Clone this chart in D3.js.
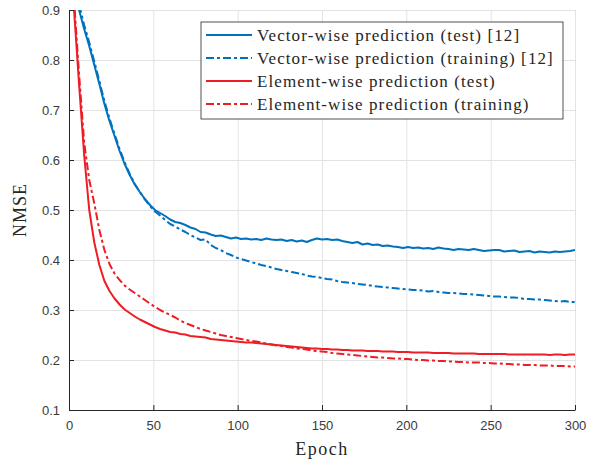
<!DOCTYPE html>
<html>
<head>
<meta charset="utf-8">
<script src="https://cdn.jsdelivr.net/npm/d3@7"></script>
<style>
  body { margin: 0; background: #fff; }
  .tick text { font-family: "Liberation Sans", Arial, sans-serif; font-size: 13px; fill: #3a3a3a; }
</style>
</head>
<body>
<script>
// Epochs (x categories), one sample every 3 epochs
var epochs = d3.range(0, 301, 3);

// NMSE per series
var vecTest = [
  1.00, 0.95, 0.90, 0.862, 0.828, 0.79, 0.752, 0.712, 0.678, 0.648,
  0.618, 0.592, 0.570, 0.551, 0.536, 0.522, 0.510, 0.500, 0.494, 0.488,
  0.481, 0.476, 0.474, 0.470, 0.465, 0.462, 0.456, 0.455, 0.451, 0.448,
  0.449, 0.446, 0.443, 0.445, 0.442, 0.443, 0.441, 0.442, 0.440, 0.443,
  0.441, 0.440, 0.441, 0.438, 0.440, 0.437, 0.439, 0.436, 0.440, 0.443,
  0.441, 0.442, 0.440, 0.441, 0.438, 0.436, 0.434, 0.436, 0.431, 0.433,
  0.430, 0.431, 0.428, 0.429, 0.427, 0.426, 0.424, 0.426, 0.424, 0.425,
  0.423, 0.424, 0.422, 0.425, 0.423, 0.422, 0.420, 0.422, 0.421, 0.420,
  0.422, 0.420, 0.418, 0.419, 0.420, 0.420, 0.417, 0.418, 0.419, 0.416,
  0.417, 0.418, 0.415, 0.417, 0.416, 0.415, 0.417, 0.416, 0.417, 0.418,
  0.420
];

var vecTrain = [
  1.01, 0.96, 0.91, 0.87, 0.835, 0.797, 0.758, 0.718, 0.683, 0.652,
  0.622, 0.595, 0.572, 0.552, 0.536, 0.521, 0.508, 0.497, 0.489, 0.480,
  0.472, 0.467, 0.461, 0.456, 0.450, 0.445, 0.440, 0.441, 0.430, 0.424,
  0.420, 0.414, 0.410, 0.405, 0.402, 0.399, 0.396, 0.393, 0.390, 0.388,
  0.385, 0.382, 0.380, 0.378, 0.376, 0.374, 0.372, 0.369, 0.367, 0.366,
  0.364, 0.362, 0.361, 0.358, 0.356, 0.355, 0.354, 0.352, 0.351, 0.350,
  0.348, 0.347, 0.346, 0.345, 0.344, 0.343, 0.342, 0.341, 0.340, 0.340,
  0.339, 0.337, 0.338, 0.336, 0.335, 0.334, 0.334, 0.333, 0.332, 0.332,
  0.331, 0.330, 0.329, 0.328, 0.327, 0.327, 0.326, 0.325, 0.325, 0.324,
  0.322, 0.322, 0.321, 0.321, 0.320, 0.319, 0.318, 0.317, 0.318, 0.316,
  0.316
];

var elemTest = [
  1.05, 0.90, 0.75, 0.61, 0.50, 0.435, 0.39, 0.358, 0.338, 0.323,
  0.311, 0.301, 0.294, 0.287, 0.281, 0.276, 0.271, 0.266, 0.262, 0.259,
  0.256, 0.255, 0.252, 0.251, 0.248, 0.247, 0.246, 0.245, 0.242, 0.241,
  0.240, 0.239, 0.238, 0.237, 0.236, 0.235, 0.235, 0.234, 0.233, 0.232,
  0.231, 0.230, 0.229, 0.228, 0.227, 0.226, 0.225, 0.224, 0.223, 0.223,
  0.222, 0.222, 0.221, 0.221, 0.220, 0.220, 0.219, 0.219, 0.219, 0.218,
  0.218, 0.218, 0.217, 0.217, 0.217, 0.216, 0.216, 0.216, 0.215, 0.215,
  0.215, 0.215, 0.214, 0.214, 0.214, 0.214, 0.213, 0.213, 0.213, 0.213,
  0.213, 0.212, 0.212, 0.212, 0.212, 0.212, 0.212, 0.211, 0.211, 0.211,
  0.211, 0.211, 0.211, 0.211, 0.211, 0.210, 0.211, 0.211, 0.210, 0.211,
  0.211
];

var elemTrain = [
  1.07, 0.92, 0.77, 0.635, 0.56, 0.513, 0.46, 0.42, 0.392, 0.373,
  0.360, 0.349, 0.341, 0.334, 0.327, 0.320, 0.313, 0.306, 0.300, 0.295,
  0.290, 0.285, 0.279, 0.274, 0.270, 0.266, 0.262, 0.259, 0.256, 0.253,
  0.250, 0.248, 0.246, 0.244, 0.242, 0.240, 0.238, 0.237, 0.235, 0.233,
  0.231, 0.229, 0.228, 0.226, 0.225, 0.223, 0.222, 0.221, 0.219, 0.218,
  0.217, 0.216, 0.214, 0.213, 0.212, 0.211, 0.210, 0.209, 0.208, 0.207,
  0.206, 0.205, 0.205, 0.204, 0.203, 0.203, 0.202, 0.202, 0.201, 0.200,
  0.200, 0.199, 0.199, 0.198, 0.198, 0.197, 0.197, 0.196, 0.196, 0.195,
  0.195, 0.195, 0.194, 0.194, 0.193, 0.193, 0.192, 0.192, 0.191, 0.191,
  0.190, 0.190, 0.190, 0.189, 0.189, 0.189, 0.188, 0.188, 0.188, 0.187,
  0.187
];

var seriesNames = [
  "Vector-wise prediction (test) [12]",
  "Vector-wise prediction (training) [12]",
  "Element-wise prediction (test)",
  "Element-wise prediction (training)"
];

var xTicks = [0, 50, 100, 150, 200, 250, 300];
var yTicks = [0.1, 0.2, 0.3, 0.4, 0.5, 0.6, 0.7, 0.8, 0.9];

//Set up the chart
var svgWidth = 600;
var svgHeight = 464;

var margin = {
  top: 10,
  right: 25,
  bottom: 54,
  left: 69
};

var width = svgWidth - margin.left - margin.right;
var height = svgHeight - margin.top - margin.bottom;

var svg = d3.select("body")
  .append("svg")
  .attr("width", svgWidth)
  .attr("height", svgHeight);

var chartGroup = svg.append("g")
  .attr("transform", `translate(${margin.left}, ${margin.top})`);

// scales
var xScale = d3.scaleLinear().domain([0, 300]).range([0, width]);
var yScale = d3.scaleLinear().domain([0.1, 0.9]).range([height, 0]);

// grid lines
chartGroup.append("g")
  .attr("class", "grid")
  .call(d3.axisBottom(xScale).tickValues(xTicks).tickSize(height).tickFormat(""))
  .call(g => g.select(".domain").remove())
  .selectAll("line").attr("stroke", "#e3e3e3");

chartGroup.append("g")
  .attr("class", "grid")
  .call(d3.axisLeft(yScale).tickValues(yTicks).tickSize(-width).tickFormat(""))
  .call(g => g.select(".domain").remove())
  .selectAll("line").attr("stroke", "#e3e3e3");

// lines, clipped to the axes box
svg.append("defs").append("clipPath")
  .attr("id", "clip")
  .append("rect")
  .attr("width", width)
  .attr("height", height);

var series = [
  { name: seriesNames[0], values: vecTest, color: "#0072BD", dash: null },
  { name: seriesNames[1], values: vecTrain, color: "#0072BD", dash: "8,3,3,3" },
  { name: seriesNames[2], values: elemTest, color: "#EE1C25", dash: null },
  { name: seriesNames[3], values: elemTrain, color: "#EE1C25", dash: "8,3,3,3" }
];

var line = d3.line()
  .x((d, i) => xScale(epochs[i]))
  .y(d => yScale(d));

chartGroup.append("g")
  .attr("clip-path", "url(#clip)")
  .selectAll("path")
  .data(series)
  .enter()
  .append("path")
  .attr("d", d => line(d.values))
  .attr("fill", "none")
  .attr("stroke", d => d.color)
  .attr("stroke-width", 2)
  .attr("stroke-dasharray", d => d.dash)
  .attr("stroke-linejoin", "round");

// axes (ticks point inward)
chartGroup.append("g")
  .attr("transform", `translate(0, ${height})`)
  .call(d3.axisBottom(xScale).tickValues(xTicks).tickSize(-5).tickSizeOuter(0).tickPadding(11))
  .call(g => g.selectAll("line, .domain").attr("stroke", "#262626"));

chartGroup.append("g")
  .call(d3.axisLeft(yScale).tickValues(yTicks).tickSize(-5).tickSizeOuter(0).tickPadding(9).tickFormat(d3.format(".1f")))
  .call(g => g.selectAll("line, .domain").attr("stroke", "#262626"));

// axis labels
svg.append("text")
  .attr("x", margin.left + width / 2)
  .attr("y", 455)
  .attr("text-anchor", "middle")
  .style("font-family", "'Liberation Serif', serif")
  .style("font-size", "18px")
  .style("letter-spacing", "1.5px")
  .attr("fill", "#262626")
  .text("Epoch");

svg.append("text")
  .attr("transform", "rotate(-90)")
  .attr("x", -(margin.top + height / 2))
  .attr("y", 26)
  .attr("text-anchor", "middle")
  .style("font-family", "'Liberation Serif', serif")
  .style("font-size", "18px")
  .style("letter-spacing", "1px")
  .attr("fill", "#262626")
  .text("NMSE");

// legend
var legend = svg.append("g")
  .attr("transform", "translate(201, 22)");

legend.append("rect")
  .attr("width", 362)
  .attr("height", 97)
  .attr("fill", "#fff")
  .attr("stroke", "#262626")
  .attr("stroke-width", 0.8);

var items = legend.selectAll(".item")
  .data(series)
  .enter()
  .append("g")
  .attr("class", "item")
  .attr("transform", (d, i) => `translate(0, ${13 + i * 23})`);

items.append("line")
  .attr("x1", 5)
  .attr("x2", 51)
  .attr("stroke", d => d.color)
  .attr("stroke-width", 2)
  .attr("stroke-dasharray", d => d.dash);

items.append("text")
  .attr("x", 56)
  .attr("dy", "0.35em")
  .style("font-family", "'Liberation Serif', serif")
  .style("font-size", "17px")
  .style("letter-spacing", "1.1px")
  .attr("fill", "#262626")
  .text(d => d.name);
</script>
</body>
</html>
